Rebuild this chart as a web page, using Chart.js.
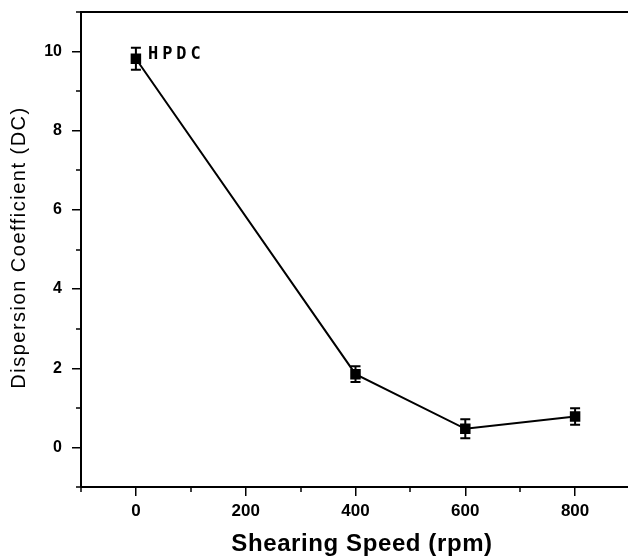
<!DOCTYPE html>
<html>
<head>
<meta charset="utf-8">
<script src="https://cdn.jsdelivr.net/npm/chart.js@4.4.1/dist/chart.umd.min.js"></script>
<style>
html,body{margin:0;padding:0;background:#fff;overflow:hidden;}
#wrap{width:640px;height:558px;overflow:hidden;}
</style>
</head>
<body>
<div id="wrap"><canvas id="c" width="640" height="558"></canvas></div>
<script>
// Data
const shearingSpeed = [0, 400, 600, 800];
const dispersionCoeff = [9.82, 1.85, 0.47, 0.78];
const errorBars = [0.28, 0.2, 0.24, 0.21];
const pointLabel = 'HPDC';
const xTickValues = [0, 200, 400, 600, 800];
const xMinorTicks = [-100, 100, 300, 500, 700, 900];
const yTickValues = [0, 2, 4, 6, 8, 10];
const yMinorTicks = [-1, 1, 3, 5, 7, 9, 11];
const xTitle = 'Shearing Speed (rpm)';
const yTitle = 'Dispersion Coefficient (DC)';

const errorBarPlugin = {
  id: 'errorBars',
  afterDatasetsDraw(chart) {
    const ctx = chart.ctx;
    const xs = chart.scales.x, ys = chart.scales.y;
    ctx.save();
    ctx.strokeStyle = '#000';
    ctx.lineWidth = 2;
    shearingSpeed.forEach((sx, i) => {
      const px = xs.getPixelForValue(sx);
      const top = ys.getPixelForValue(dispersionCoeff[i] + errorBars[i]);
      const bot = ys.getPixelForValue(dispersionCoeff[i] - errorBars[i]);
      ctx.beginPath();
      ctx.moveTo(px, top); ctx.lineTo(px, bot);
      ctx.moveTo(px - 5, top); ctx.lineTo(px + 5, top);
      ctx.moveTo(px - 5, bot); ctx.lineTo(px + 5, bot);
      ctx.stroke();
    });
    const lx = xs.getPixelForValue(shearingSpeed[0]) + 12;
    const ly = ys.getPixelForValue(dispersionCoeff[0]) - 4;
    ctx.fillStyle = '#000';
    ctx.font = 'bold 17px "DejaVu Sans Mono"';
    ctx.letterSpacing = '4px';
    ctx.textBaseline = 'middle';
    ctx.textAlign = 'left';
    ctx.fillText(pointLabel, lx, ly);
    ctx.restore();
  }
};

const framePlugin = {
  id: 'frame',
  afterDraw(chart) {
    const {ctx, chartArea} = chart;
    const xs = chart.scales.x, ys = chart.scales.y;
    ctx.save();
    ctx.strokeStyle = '#000';
    ctx.lineWidth = 2;
    ctx.beginPath();
    ctx.moveTo(chartArea.left, chartArea.bottom);
    ctx.lineTo(chartArea.left, chartArea.top);
    ctx.lineTo(chartArea.right + 5, chartArea.top);
    ctx.moveTo(chartArea.left, chartArea.bottom);
    ctx.lineTo(chartArea.right + 5, chartArea.bottom);
    ctx.stroke();
    // minor ticks
    ctx.lineWidth = 1.5;
    ctx.beginPath();
    xMinorTicks.forEach(v => {
      const px = Math.round(xs.getPixelForValue(v));
      ctx.moveTo(px, chartArea.bottom); ctx.lineTo(px, chartArea.bottom + 5);
    });
    yMinorTicks.forEach(v => {
      const py = Math.round(ys.getPixelForValue(v));
      ctx.moveTo(chartArea.left, py); ctx.lineTo(chartArea.left - 5, py);
    });
    ctx.stroke();
    // axis titles
    ctx.fillStyle = '#000';
    ctx.textAlign = 'center';
    ctx.textBaseline = 'middle';
    ctx.font = 'bold 24px "Liberation Sans"';
    ctx.letterSpacing = '0.6px';
    ctx.fillText(xTitle, 362, 544);
    ctx.translate(19, (chartArea.top + chartArea.bottom) / 2 - 2);
    ctx.rotate(-Math.PI / 2);
    ctx.font = '20px "Liberation Sans"';
    ctx.letterSpacing = '1.5px';
    ctx.fillText(yTitle, 0, 0);
    ctx.restore();
  }
};

new Chart(document.getElementById('c'), {
  type: 'scatter',
  data: {
    datasets: [{
      data: shearingSpeed.map((x, i) => ({x, y: dispersionCoeff[i]})),
      showLine: true,
      borderColor: '#000',
      borderWidth: 2,
      backgroundColor: '#000',
      pointStyle: 'rect',
      pointRadius: 6,
      pointHoverRadius: 6,
      tension: 0
    }]
  },
  options: {
    responsive: false,
    animation: false,
    events: [],
    layout: {padding: {top: 12, right: 10, left: 0, bottom: 0}},
    plugins: {legend: {display: false}, tooltip: {enabled: false}},
    scales: {
      x: {
        type: 'linear', min: -100, max: 900,
        afterFit(s) { s.height = 71; s.paddingLeft = 0; s.paddingRight = 0; },
        afterBuildTicks(s) { s.ticks = xTickValues.map(v => ({value: v})); },
        border: {display: false},
        grid: {display: true, drawOnChartArea: false, drawTicks: true, tickLength: 9, color: '#000', lineWidth: 1.5},
        ticks: {
          padding: 5, color: '#000', maxRotation: 0, autoSkip: false,
          font: {family: 'Liberation Sans', size: 17, weight: 'bold'}
        }
      },
      y: {
        type: 'linear', min: -1, max: 11,
        afterFit(s) { s.width = 81; s.paddingTop = 0; s.paddingBottom = 0; },
        afterBuildTicks(s) { s.ticks = yTickValues.map(v => ({value: v})); },
        border: {display: false},
        grid: {display: true, drawOnChartArea: false, drawTicks: true, tickLength: 9, color: '#000', lineWidth: 1.5},
        ticks: {
          padding: 10, color: '#000', autoSkip: false,
          font: {family: 'Liberation Sans', size: 16, weight: 'bold'}
        }
      }
    }
  },
  plugins: [errorBarPlugin, framePlugin]
});
</script>
</body>
</html>
